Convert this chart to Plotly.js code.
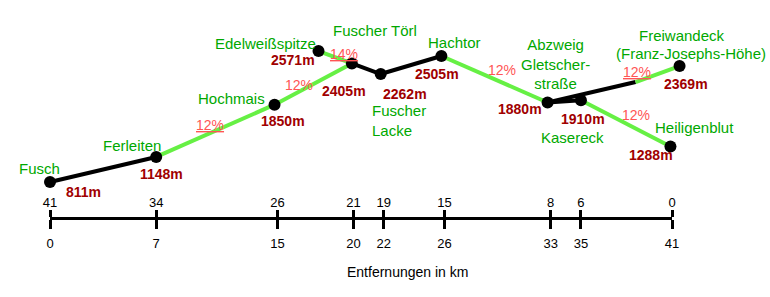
<!DOCTYPE html>
<html>
<head>
<meta charset="utf-8">
<script src="https://cdn.plot.ly/plotly-3.0.1.min.js"></script>
<style>html,body{margin:0;padding:0;background:#fff;}#chart{width:770px;height:297px;}</style>
</head>
<body>
<div id="chart"></div>
<script>
// ---- data ----
const places = ['Fusch', 'Ferleiten', 'Hochmais', 'Edelweißspitze', 'Fuscher Törl', 'Fuscher Lacke',
  'Hachtor', 'Abzweig Gletscherstraße', 'Kasereck', 'Heiligenblut', 'Freiwandeck (Franz-Josephs-Höhe)', 'Knick'];
const km   = [0, 7, 14.8, 17.7, 19.9, 21.8, 25.8, 32.8, 35, 40.9, 41.5, 38.6];
const elev = [811, 1148, 1850, 2571, 2405, 2262, 2505, 1880, 1910, 1288, 2369, 2155];
const elevLabels = ['811m', '1148m', '1850m', '2571m', '2405m', '2262m', '2505m', '1880m', '1910m', '1288m', '2369m'];
const placeLabels = ['Fusch', 'Ferleiten', 'Hochmais', 'Edelweißspitze', 'Fuscher Törl', 'Fuscher<br>Lacke',
  'Hachtor', 'Abzweig<br>Gletscher-<br>straße', 'Kasereck', 'Heiligenblut', 'Freiwandeck', '(Franz-Josephs-Höhe)'];
// road sections: from, to, steep (12–14 %) or not
const segFrom  = [0, 1, 2, 3, 4, 5, 6, 7, 7, 11, 8];
const segTo    = [1, 2, 4, 4, 5, 6, 7, 8, 11, 10, 9];
const segSteep = [false, true, true, true, false, false, true, false, false, true, true];
const gradeSeg   = [1, 2, 3, 6, 9, 10];
const gradeText  = ['12%', '12%', '14%', '12%', '12%', '12%'];
const gradeUnder = [true, false, true, false, true, false];
// distance axis
const distFromFusch = [0, 7, 15, 20, 22, 26, 33, 35, 41];
const distToEnd     = [41, 34, 26, 21, 19, 15, 8, 6, 0];

// ---- styling / layout ----
const FONT = 'Liberation Sans, Arial, sans-serif';
const GREEN_TXT = '#00a800', RED_TXT = '#a00000', PCT_TXT = '#ff5555', GREEN_LINE = '#66f044';

const traces = [];
traces.push({x: distFromFusch, y: distFromFusch.map(() => null), xaxis: 'x2', yaxis: 'y', mode: 'markers', hoverinfo: 'skip', showlegend: false});
traces.push({x: distFromFusch, y: distFromFusch.map(() => null), xaxis: 'x3', yaxis: 'y', mode: 'markers', hoverinfo: 'skip', showlegend: false});
segFrom.forEach((a, i) => {
  const b = segTo[i];
  traces.push({
    x: [km[a], km[b]], y: [elev[a], elev[b]], xaxis: 'x', yaxis: 'y',
    mode: 'lines', line: {color: segSteep[i] ? GREEN_LINE : '#000', width: 4},
    hoverinfo: 'skip', showlegend: false
  });
});
traces.push({
  x: km.slice(0, 11), y: elev.slice(0, 11), text: places.slice(0, 11), xaxis: 'x', yaxis: 'y',
  mode: 'markers', marker: {color: '#000', size: 12}, cliponaxis: false,
  hoverinfo: 'text', showlegend: false
});

// label offsets (px) from the point they describe
const placeAnchor = [0, 1, 2, 3, 4, 5, 6, 7, 8, 9, 10, 10];
const placeDx = [-11, -24, -43, -53, 23, -11, 13, 8, -8, 24, 2, 11];
const placeDy = [-14, -11, -6, -8, -33, 46, -13, -38, 37, -19, -31, -13];
const placeAlignLeft = [false, false, false, false, false, true, false, false, false, false, false, false];
const elevDx = [33, 5, 8, -26, -8, 24, -4, -28, 2, -19, 6];
const elevDy = [10, 17, 16, 9, 28, 20, 18, 7, 19, 8, 18];
const gradeDx = [54, 24, 25, 61, -43, 55];
const gradeDy = [-32, -20, 3, 14, 6, 15];
const gradeFromEnd = [false, false, false, false, true, false];

const ann = [];
placeLabels.forEach((t, i) => {
  const p = placeAnchor[i];
  ann.push({x: km[p], y: elev[p], xref: 'x', yref: 'y', text: t, showarrow: false,
    xshift: placeDx[i], yshift: -placeDy[i],
    xanchor: placeAlignLeft[i] ? 'left' : 'center', yanchor: 'middle', align: placeAlignLeft[i] ? 'left' : 'center',
    font: {family: FONT, size: 15, color: GREEN_TXT}});
});
elevLabels.forEach((t, i) => {
  ann.push({x: km[i], y: elev[i], xref: 'x', yref: 'y', text: '<b>' + t + '</b>', showarrow: false,
    xshift: elevDx[i], yshift: -elevDy[i], xanchor: 'center', yanchor: 'middle',
    font: {family: FONT, size: 14, color: RED_TXT}});
});
gradeText.forEach((t, i) => {
  const s = gradeSeg[i];
  const p = gradeFromEnd[i] ? segTo[s] : segFrom[s];
  ann.push({x: km[p], y: elev[p], xref: 'x', yref: 'y', text: gradeUnder[i] ? '<u>' + t + '</u>' : t, showarrow: false,
    xshift: gradeDx[i], yshift: -gradeDy[i], xanchor: 'center', yanchor: 'middle',
    font: {family: FONT, size: 14, color: PCT_TXT}});
});
ann.push({x: 408 / 770, y: -55 / 217, xref: 'paper', yref: 'paper', text: 'Entfernungen in km', showarrow: false,
  xanchor: 'center', yanchor: 'middle', font: {family: FONT, size: 14, color: '#000'}});

const tickFont = {family: FONT, size: 13, color: '#000'};
const layout = {
  width: 770, height: 297,
  margin: {l: 0, r: 0, t: 0, b: 80, pad: 0},
  paper_bgcolor: '#fff', plot_bgcolor: 'rgba(0,0,0,0)', showlegend: false,
  xaxis: {domain: [0, 1], range: [-50 / 15.17, 720 / 15.17], visible: false},
  yaxis: {domain: [0, 1], range: [341, 3257], visible: false},
  xaxis2: {domain: [50 / 770, 672 / 770], range: [0, 41], anchor: 'y', side: 'bottom',
    showline: true, linecolor: '#000', linewidth: 3, ticks: 'outside', ticklen: 9, tickwidth: 3, tickcolor: '#000',
    tickmode: 'array', tickvals: distFromFusch, ticktext: distFromFusch.map(String), ticklabelstandoff: 3,
    showgrid: false, zeroline: false, tickfont: tickFont},
  xaxis3: {overlaying: 'x2', anchor: 'free', position: 0, side: 'top', range: [0, 41],
    showline: false, ticks: 'outside', ticklen: 7, tickwidth: 3, tickcolor: '#000',
    tickmode: 'array', tickvals: distFromFusch, ticktext: distToEnd.map(String), ticklabelstandoff: -2,
    showgrid: false, zeroline: false, tickfont: tickFont},
  annotations: ann
};
Plotly.newPlot('chart', traces, layout, {staticPlot: true, displayModeBar: false});
</script>
</body>
</html>
